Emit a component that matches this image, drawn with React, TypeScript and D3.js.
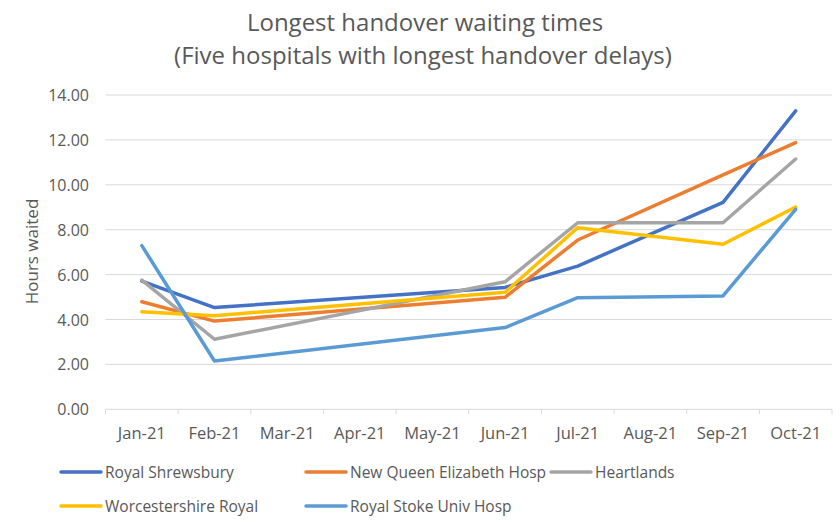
import React from "react";
import * as d3 from "d3";

const months = ["Jan-21", "Feb-21", "Mar-21", "Apr-21", "May-21", "Jun-21", "Jul-21", "Aug-21", "Sep-21", "Oct-21"];
const yTicks = [0, 2, 4, 6, 8, 10, 12, 14];

const royalShrewsbury = [5.71, 4.53, null, null, null, 5.43, 6.38, null, 9.22, 13.29];
const newQueenElizabeth = [4.79, 3.93, null, null, null, 4.99, 7.54, null, 10.44, 11.88];
const heartlands = [5.75, 3.12, null, null, null, 5.68, 8.31, null, 8.31, 11.15];
const worcestershireRoyal = [4.35, 4.17, null, null, null, 5.21, 8.09, null, 7.35, 9.01];
const royalStoke = [7.29, 2.15, null, null, null, 3.64, 4.97, null, 5.05, 8.91];

const seriesNames = ["Royal Shrewsbury", "New Queen Elizabeth Hosp", "Heartlands", "Worcestershire Royal", "Royal Stoke Univ Hosp"];
const seriesValues = [royalShrewsbury, newQueenElizabeth, heartlands, worcestershireRoyal, royalStoke];
const seriesColors = ["#4472C4", "#ED7D31", "#A5A5A5", "#FFC000", "#5B9BD5"];

const W = 840;
const H = 522;
const FONT = "'Open Sans', sans-serif";
const TXT = "#595959";

export default function App() {
  const x = d3.scaleBand<string>().domain(months).range([105.5, 832]).padding(0);
  const y = d3.scaleLinear().domain([0, 14]).range([409.3, 95]);
  const cx = (m: string) => (x(m) as number) + x.bandwidth() / 2;

  const line = d3
    .line<{ m: string; v: number }>()
    .x((d) => cx(d.m))
    .y((d) => y(d.v));

  const boundaries = months.map((m) => x(m) as number).concat([x.range()[1]]);

  const legendPos = [
    { sx: 61, tx: 105, y: 472 },
    { sx: 306, tx: 350, y: 472 },
    { sx: 551, tx: 595, y: 472 },
    { sx: 61, tx: 105, y: 506 },
    { sx: 306, tx: 350, y: 506 },
  ];

  return (
    <svg width={W} height={H} style={{ position: "absolute", left: 0, top: 0, background: "#fff" }} fontFamily={FONT}>
      <rect x={0} y={0} width={W} height={H} fill="#fff" />
      <text x={425} y={31} textAnchor="middle" fontSize={24} fill={TXT}>
        Longest handover waiting times
      </text>
      <text x={423} y={64} textAnchor="middle" fontSize={24} fill={TXT}>
        (Five hospitals with longest handover delays)
      </text>

      {yTicks.map((t) => (
        <g key={t}>
          <line x1={x.range()[0]} x2={x.range()[1]} y1={y(t)} y2={y(t)} stroke="#D9D9D9" strokeWidth={1} />
          <text x={89} y={y(t) + 6} textAnchor="end" fontSize={16} fill={TXT}>
            {t.toFixed(2)}
          </text>
        </g>
      ))}
      {boundaries.map((b, i) => (
        <line key={i} x1={b} x2={b} y1={y(0)} y2={y(0) + 5} stroke="#D9D9D9" strokeWidth={1} />
      ))}
      {months.map((m) => (
        <text key={m} x={cx(m)} y={439} textAnchor="middle" fontSize={16.5} fill={TXT}>
          {m}
        </text>
      ))}
      <text transform={`translate(38,251.5) rotate(-90)`} textAnchor="middle" fontSize={17} fill={TXT}>
        Hours waited
      </text>

      {seriesValues.map((vals, i) => {
        const pts = vals
          .map((v, j) => ({ m: months[j], v: v as number }))
          .filter((d, j) => vals[j] !== null);
        return (
          <path key={i} d={line(pts) || ""} fill="none" stroke={seriesColors[i]} strokeWidth={3.5} strokeLinejoin="round" strokeLinecap="round" />
        );
      })}

      {seriesNames.map((n, i) => (
        <g key={n}>
          <line x1={legendPos[i].sx} x2={legendPos[i].sx + 40} y1={legendPos[i].y} y2={legendPos[i].y} stroke={seriesColors[i]} strokeWidth={3.5} strokeLinecap="round" />
          <text x={legendPos[i].tx} y={legendPos[i].y + 5.5} fontSize={15.5} fill={TXT}>
            {n}
          </text>
        </g>
      ))}
    </svg>
  );
}
